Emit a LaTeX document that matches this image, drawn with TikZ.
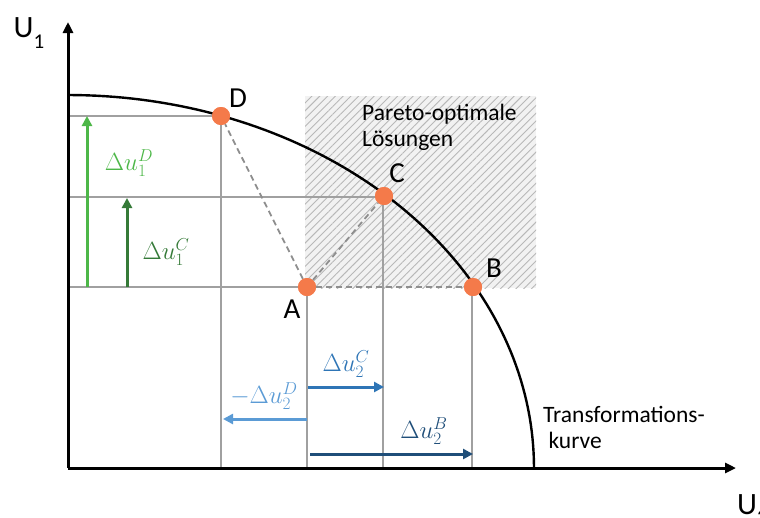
\documentclass[tikz,border=0pt]{standalone}
\usepackage{fontspec}
\setmainfont{Carlito}
\usetikzlibrary{arrows.meta,patterns.meta}
\definecolor{dotc}{HTML}{F47A4A}
\definecolor{gridc}{HTML}{A0A0A0}
\definecolor{dashc}{HTML}{8E8E8E}
\definecolor{lgreen}{HTML}{4DB748}
\definecolor{dgreen}{HTML}{357A38}
\definecolor{mblue}{HTML}{2E75B6}
\definecolor{lblue}{HTML}{5B9BD5}
\definecolor{nblue}{HTML}{1F4E79}
\begin{document}
\begin{tikzpicture}[x=1pt,y=-1pt,
  axis/.style={line width=3pt,-{Triangle[length=11pt,width=10pt]}},
  curve/.style={line width=2.4pt},
  gridline/.style={gridc,line width=1.5pt},
  dashline/.style={dashc,line width=1.8pt,dash pattern=on 6pt off 4pt},
  pdot/.style={circle,fill=dotc,minimum size=18pt,inner sep=0pt},
  ptlabel/.style={font=\fontsize{29}{30}\selectfont,inner sep=0pt},
  txt/.style={font=\fontsize{23.5}{26}\selectfont,align=left,inner sep=0pt},
  dlabel/.style={font=\fontsize{27}{30}\selectfont,inner sep=0pt},
  darrow/.style={line width=3pt,-{Triangle[length=10pt,width=10pt]}}]
\useasboundingbox (0,0) rectangle (760,517);
% hatched region
\fill[fill=black!5] (305,96) rectangle (536,288);
\fill[pattern={Lines[angle=45,distance=5.5pt,line width=0.9pt]},pattern color=black!28] (305,96) rectangle (536,288);
\node[txt,anchor=north west] (pareto) at (362,104) {Pareto-optimale\\Lösungen};
% coordinates
\coordinate (O) at (68,468);
\coordinate (ytop) at (68,22);
\coordinate (xend) at (736,468);
\coordinate (yD) at (68,116);
\coordinate (yC) at (68,197);
\coordinate (yA) at (68,287);
\coordinate (xD) at (221,468);
\coordinate (xA) at (307,468);
\coordinate (xC) at (383,468);
\coordinate (xB) at (472,468);
% grid lines
\draw[gridline] (yD) -- (221,116);
\draw[gridline] (yC) -- (383,197);
\draw[gridline] (yA) -- (307,287);
\draw[gridline] (221,116) -- (xD);
\draw[gridline] (307,287) -- (xA);
\draw[gridline] (383,197) -- (xC);
\draw[gridline] (472,287) -- (xB);
% curve
\draw[curve] plot[domain=0:90,samples=80] ({68+466*cos(\x)},{468-373*sin(\x)});
% points
\node[pdot] (A) at (307,287) {};
\node[pdot] (B) at (473,287) {};
\node[pdot] (C) at (384,196) {};
\node[pdot] (D) at (221,116) {};
\draw[dashline] (A) -- (D);
\draw[dashline] (A) -- (C);
\draw[dashline] (A) -- (B);
\node[pdot] at (A) {};
\node[pdot] at (B) {};
\node[pdot] at (C) {};
\node[pdot] at (D) {};
\node[ptlabel] (lA) at (292,309) {A};
\node[ptlabel] (lB) at (494,268) {B};
\node[ptlabel] (lC) at (397,173) {C};
\node[ptlabel] (lD) at (238,98) {D};
% axes
\draw[axis] (O) -- (ytop);
\draw[axis] (O) -- (xend);
\node[font=\fontsize{31}{32}\selectfont,inner sep=0pt] (U1) at (29,33) {U\raisebox{-0.35em}{\fontsize{21}{22}\selectfont 1}};
\node[font=\fontsize{31}{32}\selectfont,inner sep=0pt,anchor=north west] (U2) at (737,494) {U\raisebox{-0.35em}{\fontsize{21}{22}\selectfont 2}};
\node[txt,anchor=north west] (tk) at (543,406) {Transformations-\\\ kurve};
% vertical arrows
\coordinate (g1s) at (87,287);
\coordinate (g1e) at (87,116);
\coordinate (g2s) at (127,287);
\coordinate (g2e) at (127,198);
\draw[darrow,lgreen] (g1s) -- (g1e);
\draw[darrow,dgreen] (g2s) -- (g2e);
\node[dlabel,text=lgreen] (lu1D) at (129,163) {$\Delta u_1^D$};
\node[dlabel,text=dgreen] (lu1C) at (166,252) {$\Delta u_1^C$};
% horizontal arrows
\coordinate (c1s) at (308,387);
\coordinate (c1e) at (384,387);
\coordinate (d1s) at (307,419);
\coordinate (d1e) at (223,419);
\coordinate (b1s) at (310,454);
\coordinate (b1e) at (473,454);
\draw[darrow,mblue] (c1s) -- (c1e);
\draw[darrow,lblue] (d1s) -- (d1e);
\draw[darrow,nblue] (b1s) -- (b1e);
\node[dlabel,text=mblue] (lu2C) at (346,364) {$\Delta u_2^C$};
\node[dlabel,text=lblue] (lu2D) at (264,396) {$-\Delta u_2^D$};
\node[dlabel,text=nblue] (lu2B) at (424,431) {$\Delta u_2^B$};
\end{tikzpicture}
\end{document}
